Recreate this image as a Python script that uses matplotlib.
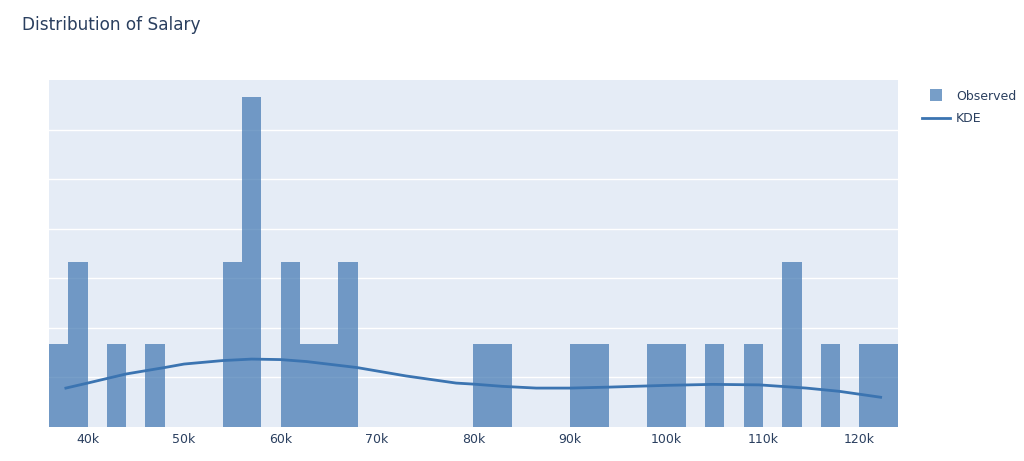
import numpy as np
import matplotlib.pyplot as plt
from matplotlib.lines import Line2D

# histogram: left edge of each 2k bin and its count
bin_left = [36, 38, 42, 46, 54, 56, 60, 62, 64, 66, 80, 82, 90, 92,
            98, 100, 104, 108, 112, 116, 120, 122]
counts = [1, 2, 1, 1, 2, 4, 2, 1, 1, 2, 1, 1, 1, 1,
          1, 1, 1, 1, 2, 1, 1, 1]
bin_width = 2  # in thousands

# KDE curve (x in thousands, density in 1e-5)
kde_x = [37.75, 40, 44, 48, 50, 54, 57, 60, 62.7, 67.9, 70, 73, 78.2, 80,
         83, 86.5, 90, 94.1, 100, 104.8, 109.6, 114.5, 117.9, 122.2]
kde_y = [0.785, 0.886, 1.07, 1.20, 1.27, 1.34, 1.37, 1.36, 1.32, 1.20, 1.13,
         1.03, 0.886, 0.865, 0.82, 0.785, 0.785, 0.805, 0.84, 0.86, 0.85,
         0.785, 0.72, 0.60]

n_total = sum(counts)
density = [c / (n_total * bin_width * 1000) for c in counts]

bg = '#e5ecf6'
text_col = '#2a3f5f'
bar_col = '#3e75b1'
line_col = '#3b74b1'

fig = plt.figure(figsize=(10.24, 4.61), dpi=100)
ax = fig.add_axes([49 / 1024, 34 / 461, 849 / 1024, 347 / 461])
ax.set_facecolor(bg)

ax.bar([b * 1000 for b in bin_left], density, width=bin_width * 1000, align='edge',
       color=bar_col, alpha=0.7, linewidth=0, zorder=2)
ax.plot([x * 1000 for x in kde_x], [y * 1e-5 for y in kde_y], color=line_col,
        linewidth=2, zorder=3)

ax.set_xlim(36000, 124000)
ax.set_ylim(0, 7.0e-5)
ax.set_xticks(np.arange(40000, 120001, 10000))
ax.set_xticklabels([f'{int(v / 1000)}k' for v in np.arange(40000, 120001, 10000)])
ax.set_yticks(np.arange(1e-5, 6.5e-5, 1e-5))
ax.tick_params(axis='y', left=False, labelleft=False)
ax.tick_params(axis='x', length=0, colors=text_col, labelsize=9, pad=4)
ax.grid(axis='y', color='white', linewidth=1, zorder=1)
ax.set_axisbelow(True)
for s in ax.spines.values():
    s.set_visible(False)

fig.text(22 / 1024, 1 - 25 / 461, 'Distribution of Salary', fontsize=12.2,
         color=text_col, va='center', ha='left')

handles = [Line2D([0], [0], marker='s', linestyle='none', markersize=9,
                  markeredgewidth=0, color=bar_col, alpha=0.7, label='Observed'),
           Line2D([0], [0], color=line_col, linewidth=2, label='KDE')]
leg = fig.legend(handles=handles, loc='upper left', bbox_to_anchor=(0.889, 0.83),
                 frameon=False, fontsize=9, handlelength=2.3, labelspacing=0.75,
                 handletextpad=0.45)
for t in leg.get_texts():
    t.set_color(text_col)

fig.savefig('out.png', dpi=100, facecolor='white')
